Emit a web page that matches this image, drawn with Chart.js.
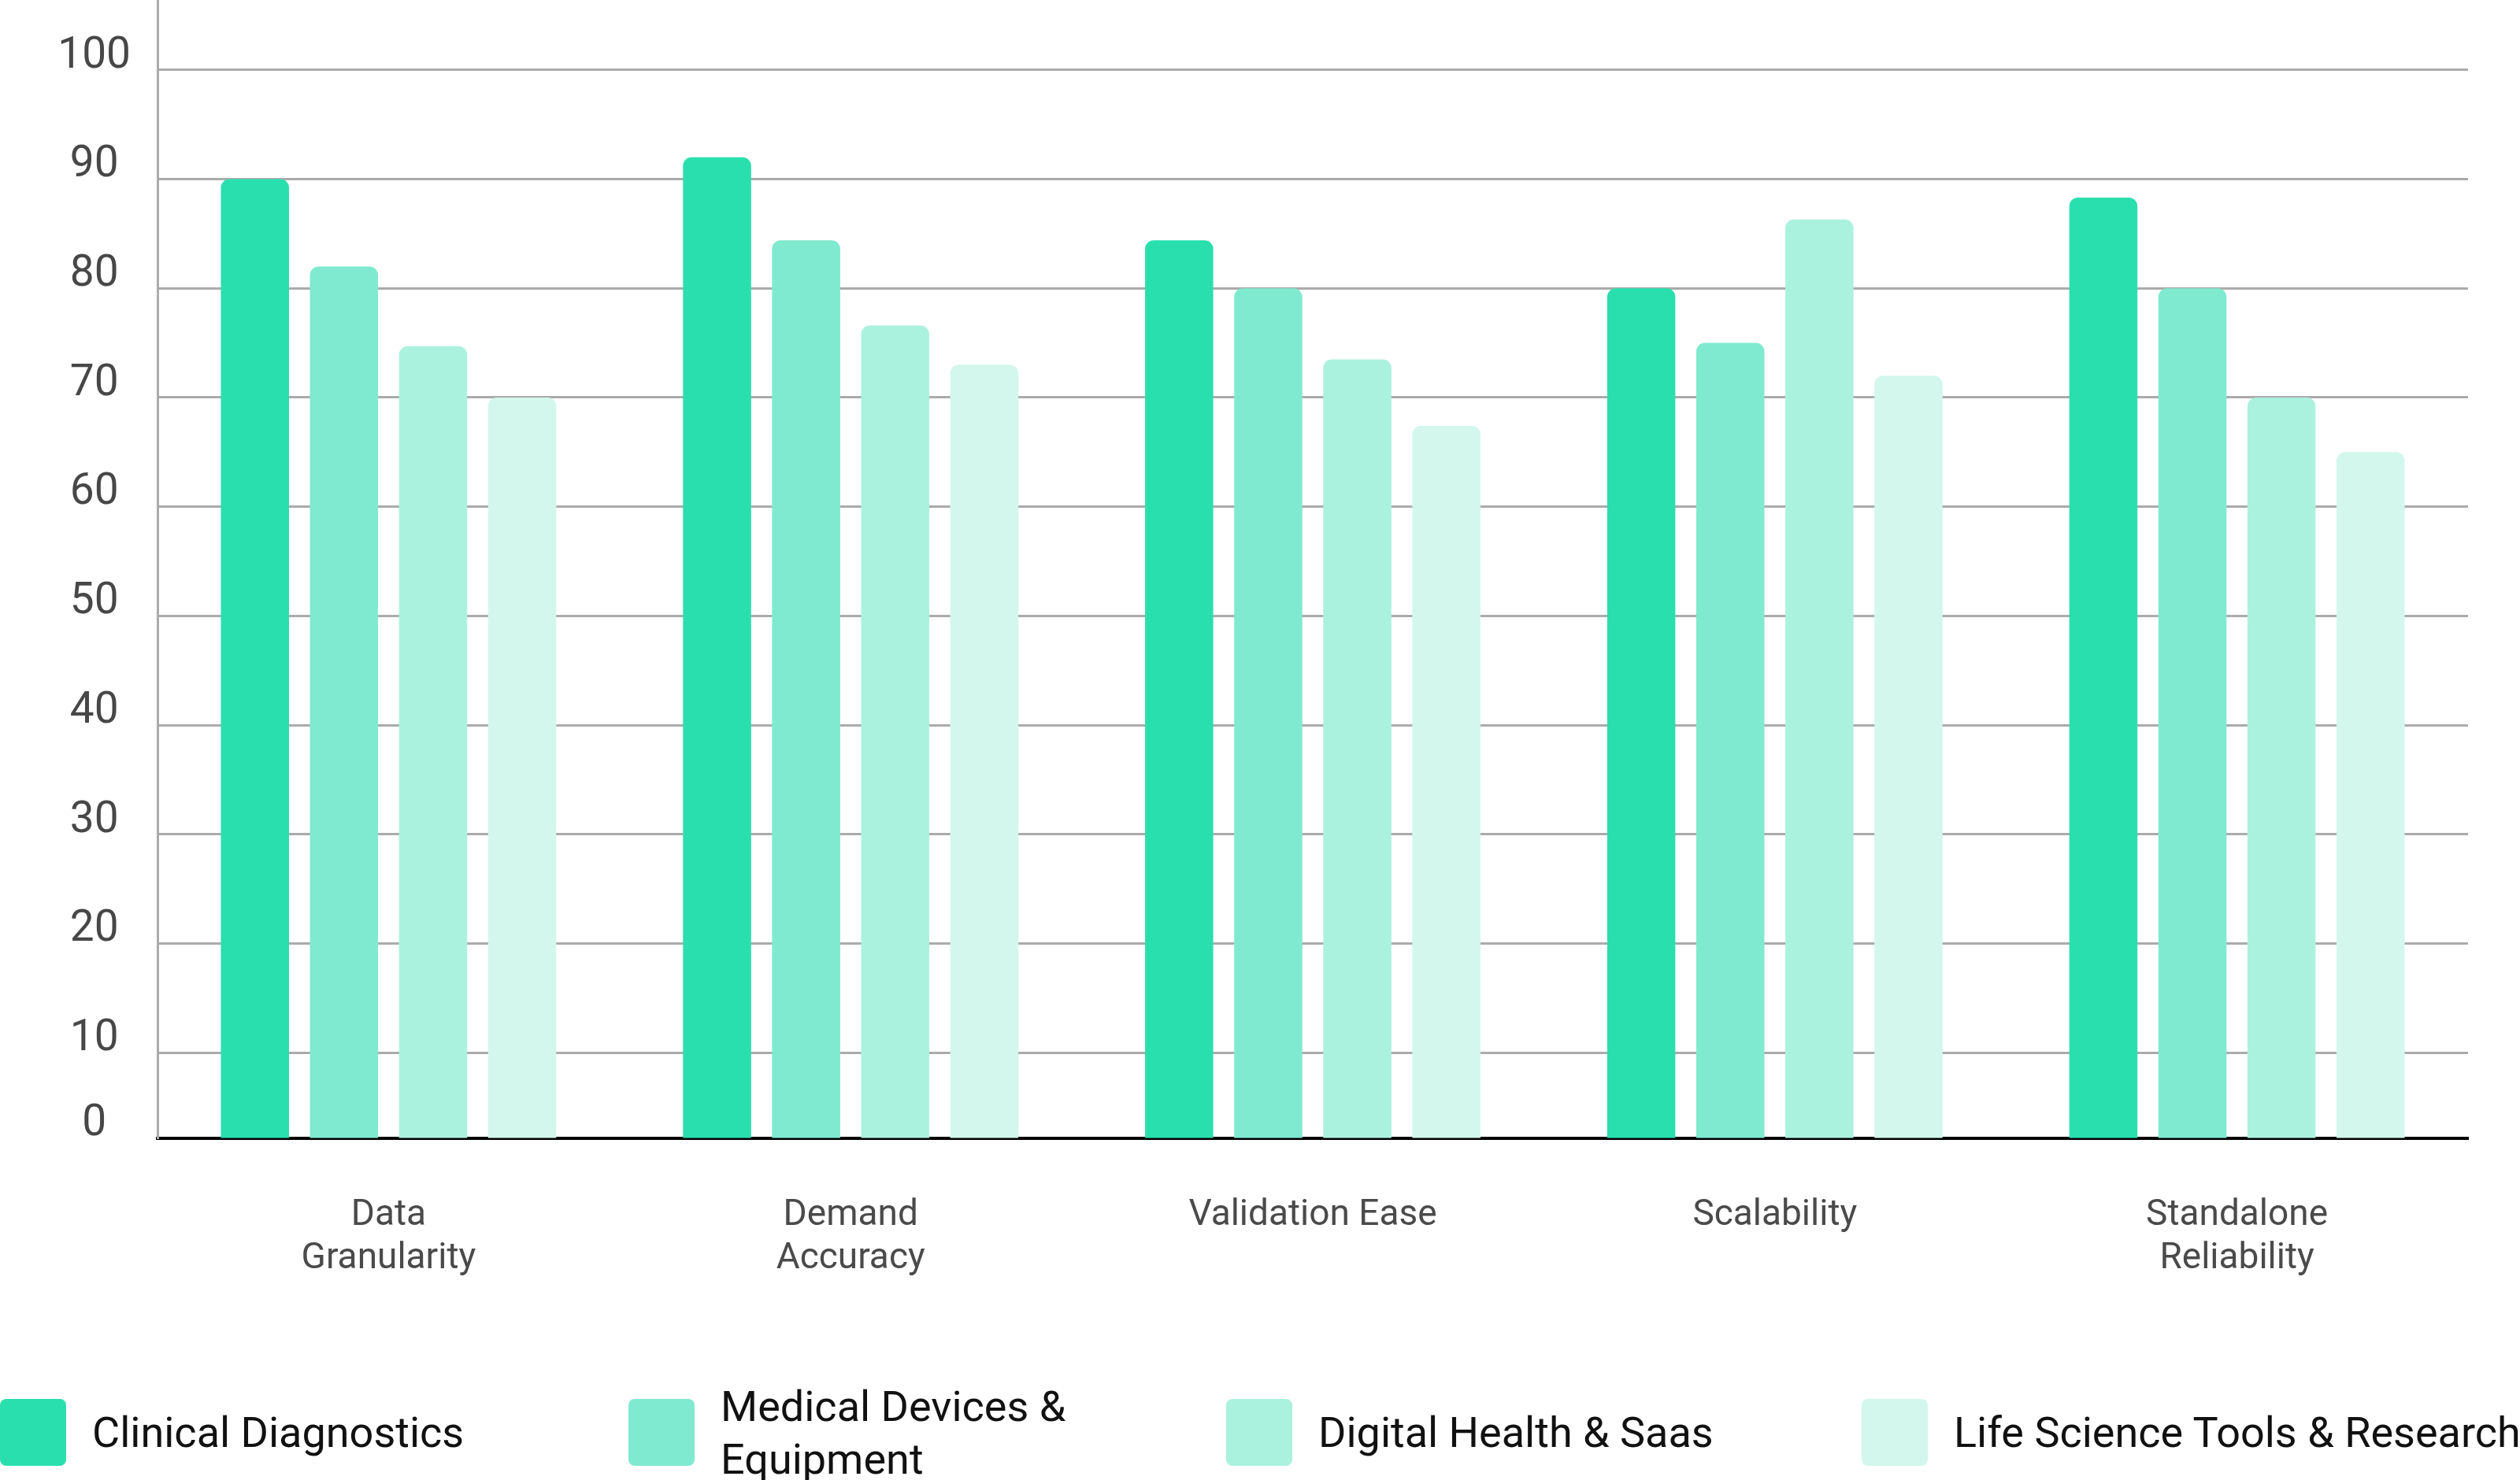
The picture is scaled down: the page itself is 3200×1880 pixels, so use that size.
<!DOCTYPE html>
<html>
<head>
<meta charset="utf-8">
<script src="https://cdn.jsdelivr.net/npm/chart.js@4"></script>
<style>
  body { margin: 0; background: #fff; font-family: Roboto, sans-serif; }
  #wrap { position: relative; width: 3200px; height: 1880px; }
  #chartBox { position: absolute; left: 0; top: 0; width: 3200px; height: 1698px; }
  #legend { position: absolute; left: 0; top: 1777px; width: 3200px; height: 85px; }
  .item { position: absolute; top: 0; height: 85px; display: flex; align-items: center; }
  .swatch { width: 84px; height: 85px; border-radius: 8px; flex: none; }
  .label { margin-left: 33px; font-size: 54px; line-height: 67px; color: #111; white-space: nowrap; }
</style>
</head>
<body>
<div id="wrap">
  <div id="chartBox"><canvas id="chart"></canvas></div>
  <div id="legend"></div>
</div>
<script>
const categories = [['Data', 'Granularity'], ['Demand', 'Accuracy'], 'Validation Ease', 'Scalability', ['Standalone', 'Reliability']];
const seriesNames = ['Clinical Diagnostics', ['Medical Devices &', 'Equipment'], 'Digital Health & Saas', 'Life Science Tools & Research'];
const clinical = [90, 92, 84.4, 80, 88.3];
const medical = [82, 84.4, 80, 75, 80];
const digital = [74.7, 76.6, 73.5, 86.3, 70];
const lifeScience = [70, 73, 67.4, 72, 65];
const yTicks = [0, 10, 20, 30, 40, 50, 60, 70, 80, 90, 100];
const colors = ['#2adfae', '#7feacf', '#abf2de', '#d3f7ec'];
const legendLeft = [0, 798, 1557, 2364];

// axis is drawn a little above the true zero, as in the original
const yMin = 2.2;
const yMax = 106.4;

const seriesValues = [clinical, medical, digital, lifeScience];

const ctx = document.getElementById('chart').getContext('2d');
new Chart(ctx, {
  type: 'bar',
  data: {
    labels: categories,
    datasets: seriesValues.map((vals, i) => ({
      label: [].concat(seriesNames[i]).join(' '),
      data: vals,
      backgroundColor: colors[i],
      borderRadius: { topLeft: 11, topRight: 11, bottomLeft: 0, bottomRight: 0 },
      borderSkipped: 'start',
      categoryPercentage: 0.771,
      barPercentage: 0.765
    }))
  },
  options: {
    responsive: true,
    maintainAspectRatio: false,
    devicePixelRatio: 1,
    animation: false,
    layout: { padding: { left: 0, right: 66, top: 0, bottom: 0 } },
    plugins: { legend: { display: false }, tooltip: { enabled: false } },
    scales: {
      x: {
        grid: { display: false, drawTicks: false },
        border: { display: true, color: '#000', width: 4 },
        ticks: {
          padding: 71,
          color: '#4a4a4a',
          font: { family: 'Roboto', size: 46 },
          maxRotation: 0,
          autoSkip: false
        }
      },
      y: {
        min: yMin,
        max: yMax,
        afterBuildTicks: (scale) => {
          scale.ticks = yTicks.map(v => ({ value: v === 0 ? yMin : v }));
        },
        afterFit: (scale) => {
          scale.width = 200;
          scale.paddingTop = 0;
          scale.paddingBottom = 0;
        },
        grid: { color: '#ababab', lineWidth: 3, drawTicks: false },
        border: { display: true, color: '#ababab', width: 3 },
        ticks: {
          padding: 34,
          crossAlign: 'center',
          labelOffset: -17,
          color: '#474747',
          font: { family: 'Roboto', size: 55 },
          callback: (value, index) => yTicks[index]
        }
      }
    }
  }
});

// legend
const legend = document.getElementById('legend');
seriesNames.forEach((name, i) => {
  const item = document.createElement('div');
  item.className = 'item';
  item.style.left = legendLeft[i] + 'px';
  const sw = document.createElement('div');
  sw.className = 'swatch';
  sw.style.background = colors[i];
  const lab = document.createElement('div');
  lab.className = 'label';
  [].concat(name).forEach((line, j) => {
    if (j > 0) lab.appendChild(document.createElement('br'));
    lab.appendChild(document.createTextNode(line));
  });
  item.appendChild(sw);
  item.appendChild(lab);
  legend.appendChild(item);
});
</script>
</body>
</html>
